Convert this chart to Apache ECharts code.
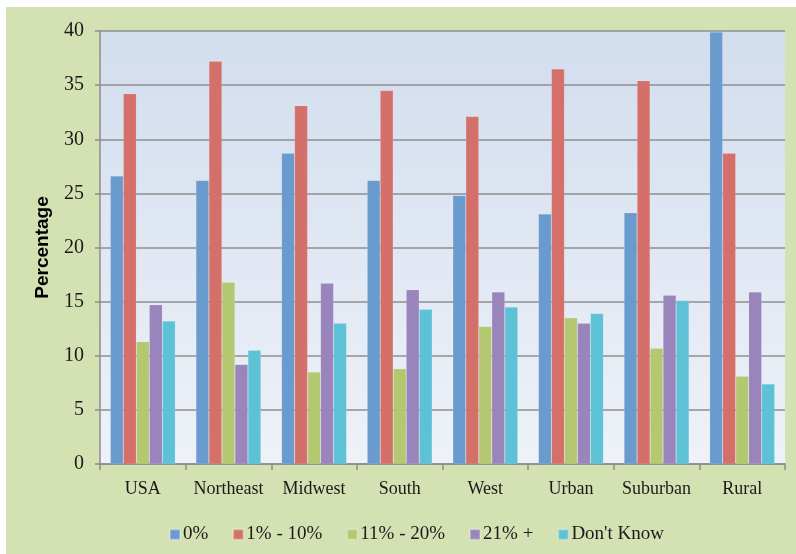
<!DOCTYPE html>
<html>
<head>
<meta charset="utf-8">
<script src="https://cdn.jsdelivr.net/npm/echarts@6/dist/echarts.min.js"></script>
<style>
  html, body { margin: 0; padding: 0; background: #fff; }
  #main { position: absolute; left: 6px; top: 7px; width: 790px; height: 547px; background: #d4e1b3; }
</style>
</head>
<body>
<div id="main"></div>
<script>
var categories = ['USA', 'Northeast', 'Midwest', 'South', 'West', 'Urban', 'Suburban', 'Rural'];
var seriesNames = ['0%', '1% - 10%', '11% - 20%', '21% +', "Don't Know"];
var zeroPct = [26.6, 26.2, 28.7, 26.2, 24.8, 23.1, 23.2, 39.9];
var oneToTen = [34.2, 37.2, 33.1, 34.5, 32.1, 36.5, 35.4, 28.7];
var elevenToTwenty = [11.3, 16.8, 8.5, 8.8, 12.7, 13.5, 10.7, 8.1];
var twentyOnePlus = [14.7, 9.2, 16.7, 16.1, 15.9, 13.0, 15.6, 15.9];
var dontKnow = [13.2, 10.5, 13.0, 14.3, 14.5, 13.9, 15.1, 7.4];
var yTicks = [0, 5, 10, 15, 20, 25, 30, 35, 40];

var myChart = echarts.init(document.getElementById('main'));

var labelFont = '"Liberation Serif", "DejaVu Serif", serif';
var allData = [zeroPct, oneToTen, elevenToTwenty, twentyOnePlus, dontKnow];
var colors = ['#6a9bcf', '#d56f69', '#b4c872', '#9a84bc', '#5ec2d6'];

var option = {
  color: colors,
  animation: false,
  legend: {
    bottom: 5,
    left: 158,
    itemWidth: 10,
    itemHeight: 10,
    itemGap: 24,
    icon: 'rect',
    textStyle: { fontFamily: labelFont, fontSize: 19, color: '#1a1a1a', padding: [0, 0, 0, -2] }
  },
  grid: {
    left: 94,
    top: 24,
    right: 11,
    bottom: 90,
    show: true,
    borderWidth: 0,
    backgroundColor: new echarts.graphic.LinearGradient(0, 0, 0, 1, [
      { offset: 0, color: '#d2ddee' },
      { offset: 1, color: '#eef2f8' }
    ])
  },
  xAxis: {
    type: 'category',
    data: categories,
    axisLine: { lineStyle: { color: '#8c8c8c', width: 1.5 } },
    axisTick: { show: true, length: 6, lineStyle: { color: '#8c8c8c', width: 1.5 } },
    axisLabel: { interval: 0, fontFamily: labelFont, fontSize: 18, color: '#1a1a1a', margin: 16 }
  },
  yAxis: {
    type: 'value',
    min: yTicks[0],
    max: yTicks[yTicks.length - 1],
    interval: 5,
    name: 'Percentage',
    nameLocation: 'middle',
    nameGap: 48,
    nameTextStyle: { fontFamily: 'Liberation Sans, Arial, sans-serif', fontWeight: 'bold', fontSize: 19, color: '#000' },
    axisLine: { show: true, lineStyle: { color: '#8c8c8c', width: 1.5 } },
    axisTick: { show: true, length: 5, lineStyle: { color: '#8c8c8c', width: 1.5 } },
    axisLabel: { fontFamily: labelFont, fontSize: 20, color: '#1a1a1a', margin: 16 },
    splitLine: { lineStyle: { color: '#8e8e8e', width: 1.5 } }
  },
  series: seriesNames.map(function (name, i) {
    return {
      type: 'bar',
      name: name,
      data: allData[i],
      barWidth: 13,
      barGap: '0%',
      itemStyle: { borderColor: 'rgba(255,255,255,0.25)', borderWidth: 0.5 }
    };
  })
};

myChart.setOption(option);
</script>
</body>
</html>
